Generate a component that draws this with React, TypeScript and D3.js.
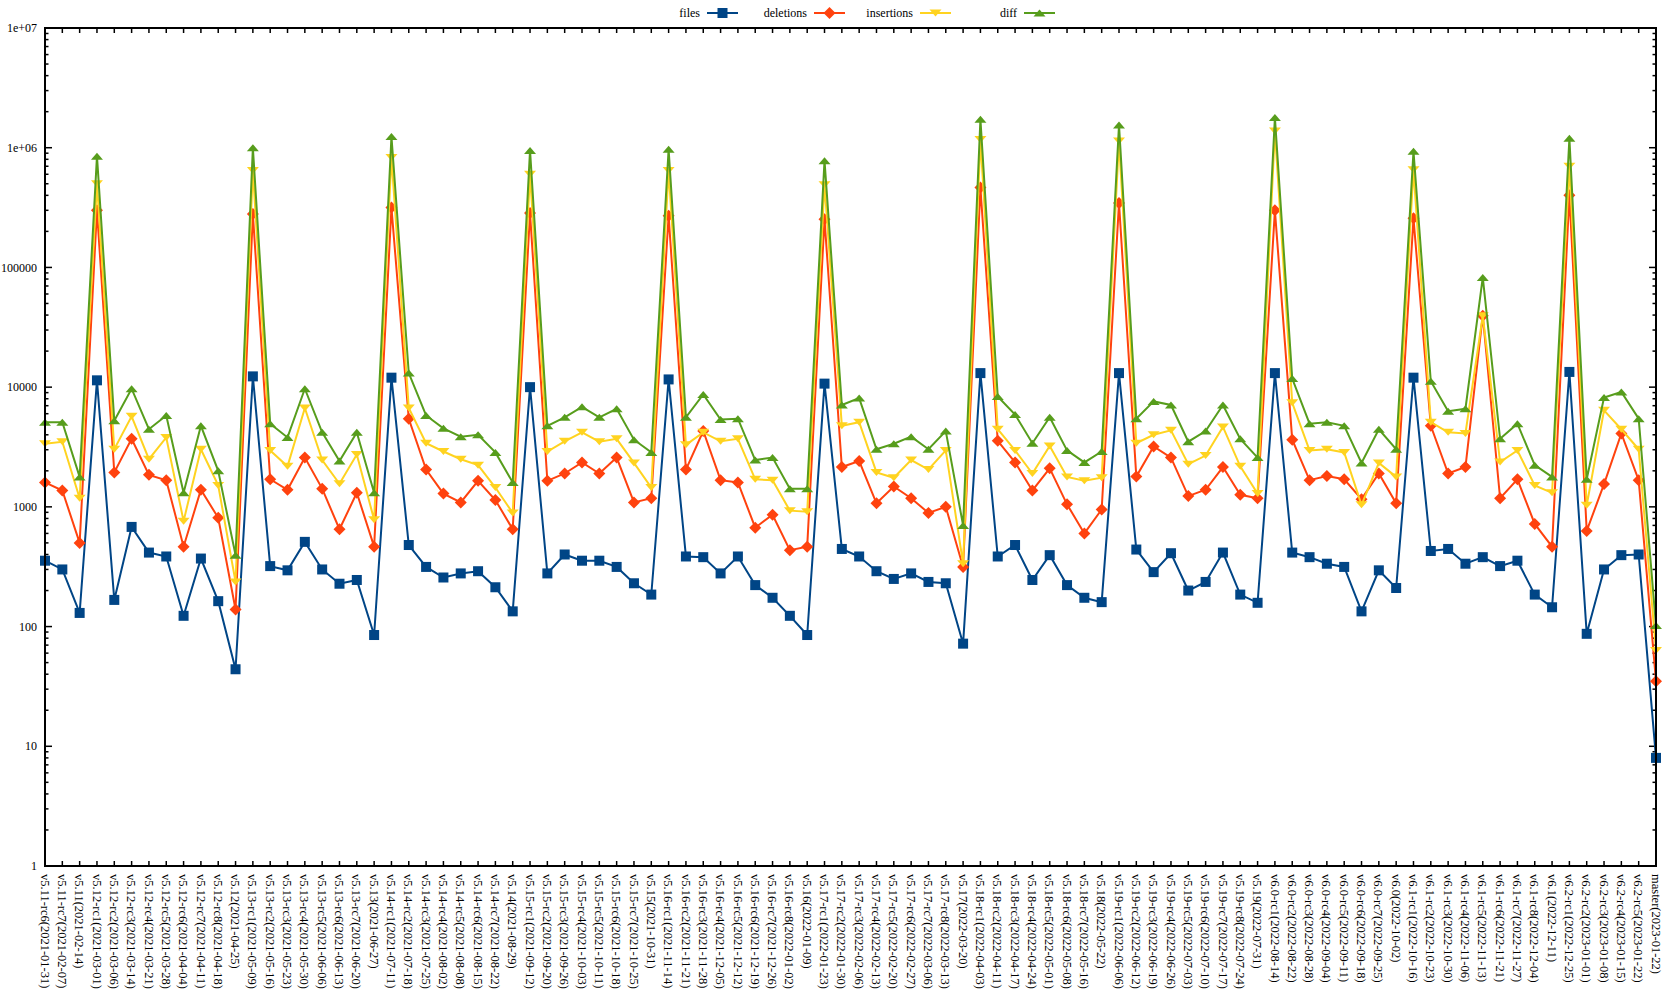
import React from 'react';
import * as d3 from 'd3';

const categories = [
  'v5.11-rc6(2021-01-31)','v5.11-rc7(2021-02-07)','v5.11(2021-02-14)','v5.12-rc1(2021-03-01)','v5.12-rc2(2021-03-06)',
  'v5.12-rc3(2021-03-14)','v5.12-rc4(2021-03-21)','v5.12-rc5(2021-03-28)','v5.12-rc6(2021-04-04)','v5.12-rc7(2021-04-11)',
  'v5.12-rc8(2021-04-18)','v5.12(2021-04-25)','v5.13-rc1(2021-05-09)','v5.13-rc2(2021-05-16)','v5.13-rc3(2021-05-23)',
  'v5.13-rc4(2021-05-30)','v5.13-rc5(2021-06-06)','v5.13-rc6(2021-06-13)','v5.13-rc7(2021-06-20)','v5.13(2021-06-27)',
  'v5.14-rc1(2021-07-11)','v5.14-rc2(2021-07-18)','v5.14-rc3(2021-07-25)','v5.14-rc4(2021-08-02)','v5.14-rc5(2021-08-08)',
  'v5.14-rc6(2021-08-15)','v5.14-rc7(2021-08-22)','v5.14(2021-08-29)','v5.15-rc1(2021-09-12)','v5.15-rc2(2021-09-20)',
  'v5.15-rc3(2021-09-26)','v5.15-rc4(2021-10-03)','v5.15-rc5(2021-10-11)','v5.15-rc6(2021-10-18)','v5.15-rc7(2021-10-25)',
  'v5.15(2021-10-31)','v5.16-rc1(2021-11-14)','v5.16-rc2(2021-11-21)','v5.16-rc3(2021-11-28)','v5.16-rc4(2021-12-05)',
  'v5.16-rc5(2021-12-12)','v5.16-rc6(2021-12-19)','v5.16-rc7(2021-12-26)','v5.16-rc8(2022-01-02)','v5.16(2022-01-09)',
  'v5.17-rc1(2022-01-23)','v5.17-rc2(2022-01-30)','v5.17-rc3(2022-02-06)','v5.17-rc4(2022-02-13)','v5.17-rc5(2022-02-20)',
  'v5.17-rc6(2022-02-27)','v5.17-rc7(2022-03-06)','v5.17-rc8(2022-03-13)','v5.17(2022-03-20)','v5.18-rc1(2022-04-03)',
  'v5.18-rc2(2022-04-11)','v5.18-rc3(2022-04-17)','v5.18-rc4(2022-04-24)','v5.18-rc5(2022-05-01)','v5.18-rc6(2022-05-08)',
  'v5.18-rc7(2022-05-16)','v5.18(2022-05-22)','v5.19-rc1(2022-06-06)','v5.19-rc2(2022-06-12)','v5.19-rc3(2022-06-19)',
  'v5.19-rc4(2022-06-26)','v5.19-rc5(2022-07-03)','v5.19-rc6(2022-07-10)','v5.19-rc7(2022-07-17)','v5.19-rc8(2022-07-24)',
  'v5.19(2022-07-31)','v6.0-rc1(2022-08-14)','v6.0-rc2(2022-08-22)','v6.0-rc3(2022-08-28)','v6.0-rc4(2022-09-04)',
  'v6.0-rc5(2022-09-11)','v6.0-rc6(2022-09-18)','v6.0-rc7(2022-09-25)','v6.0(2022-10-02)','v6.1-rc1(2022-10-16)',
  'v6.1-rc2(2022-10-23)','v6.1-rc3(2022-10-30)','v6.1-rc4(2022-11-06)','v6.1-rc5(2022-11-13)','v6.1-rc6(2022-11-21)',
  'v6.1-rc7(2022-11-27)','v6.1-rc8(2022-12-04)','v6.1(2022-12-11)','v6.2-rc1(2022-12-25)','v6.2-rc2(2023-01-01)',
  'v6.2-rc3(2023-01-08)','v6.2-rc4(2023-01-15)','v6.2-rc5(2023-01-22)','master(2023-01-22)'
];

const files = [
  355, 300, 130, 11400, 167, 680, 415, 385, 123, 370,
  163, 44, 12300, 320, 295, 510, 300, 228, 245, 85,
  12000, 480, 315, 257, 278, 290, 213, 134, 10000, 278,
  400, 355, 355, 315, 230, 185, 11600, 385, 380, 278,
  385, 222, 174, 123, 85, 10700, 445, 385, 290, 250,
  278, 236, 230, 72, 13100, 385, 480, 245, 395, 222,
  174, 160, 13100, 440, 285, 410, 200, 236, 415, 185,
  158, 13100, 415, 380, 335, 315, 134, 295, 210, 12000,
  428, 445, 335, 380, 320, 355, 185, 145, 13400, 87,
  300, 395, 400, 8
];

const deletions = [
  1600, 1370, 500, 300000, 1940, 3700, 1850, 1670, 465, 1390,
  810, 139, 280000, 1700, 1390, 2580, 1420, 650, 1310, 465,
  316000, 5450, 2050, 1290, 1090, 1650, 1140, 650, 285000, 1650,
  1900, 2350, 1900, 2580, 1090, 1180, 270000, 2050, 4300, 1670,
  1600, 670, 860, 435, 465, 253000, 2150, 2410, 1070, 1480,
  1180, 890, 1000, 315, 465000, 3560, 2350, 1370, 2100, 1050,
  600, 950, 346000, 1790, 3200, 2580, 1230, 1390, 2150, 1260,
  1180, 300000, 3640, 1670, 1810, 1700, 1160, 1900, 1070, 257000,
  4750, 1900, 2150, 39500, 1180, 1700, 720, 465, 400000, 630,
  1550, 4100, 1670, 35
];

const insertions = [
  3370, 3500, 1180, 500000, 3030, 5700, 2500, 3800, 760, 3030,
  1510, 236, 645000, 2960, 2180, 6700, 2460, 1560, 2740, 780,
  830000, 6700, 3400, 2900, 2500, 2230, 1450, 890, 600000, 2900,
  3530, 4190, 3500, 3700, 2330, 1450, 645000, 3300, 4190, 3530,
  3700, 1700, 1670, 930, 910, 490000, 4750, 5100, 1940, 1750,
  2460, 2050, 2960, 335, 1170000, 4450, 2960, 1900, 3220, 1780,
  1650, 1750, 1140000, 3400, 4000, 4360, 2270, 2680, 4650, 2180,
  1290, 1380000, 7400, 2960, 3030, 2850, 1040, 2330, 1780, 655000,
  5100, 4190, 4100, 39500, 2370, 2960, 1510, 1310, 700000, 1030,
  6400, 4450, 3030, 63
];

const diff = [
  5100, 5100, 1780, 850000, 5250, 9700, 4450, 5800, 1310, 4750,
  2000, 395, 1000000, 4950, 3800, 9700, 4190, 2410, 4190, 1310,
  1240000, 13100, 5800, 4530, 3860, 4000, 2850, 1600, 950000, 4750,
  5600, 6850, 5600, 6600, 3640, 2850, 970000, 5600, 8700, 5370,
  5450, 2460, 2580, 1420, 1420, 780000, 7100, 8100, 3030, 3370,
  3860, 3030, 4300, 700, 1730000, 8350, 5900, 3400, 5600, 2960,
  2350, 2900, 1550000, 5450, 7600, 7100, 3500, 4300, 7100, 3700,
  2580, 1790000, 11800, 4950, 5100, 4750, 2330, 4450, 3030, 935000,
  11200, 6300, 6600, 82500, 3700, 4950, 2230, 1780, 1200000, 1700,
  8200, 9100, 5450, 102
];

const yTicks = [1, 10, 100, 1000, 10000, 100000, 1e6, 1e7];
const yTickLabels = ['1', '10', '100', '1000', '10000', '100000', '1e+06', '1e+07'];

const seriesNames = ['files', 'deletions', 'insertions', 'diff'];
const seriesColors = ['#004586', '#ff420e', '#ffd320', '#579d1c'];
const seriesData = [files, deletions, insertions, diff];

const FONT = '"Liberation Serif", "Times New Roman", serif';

function Marker({ kind, cx, cy, color }: { kind: number; cx: number; cy: number; color: string }) {
  if (kind === 0) {
    return <rect x={cx - 5} y={cy - 5} width={10} height={10} fill={color} />;
  }
  if (kind === 1) {
    const r = 6;
    return <path d={`M${cx},${cy - r}L${cx + r},${cy}L${cx},${cy + r}L${cx - r},${cy}Z`} fill={color} />;
  }
  if (kind === 2) {
    return <path d={`M${cx - 6},${cy - 3.5}L${cx + 6},${cy - 3.5}L${cx},${cy + 3.5}Z`} fill={color} />;
  }
  return <path d={`M${cx - 6},${cy + 3.5}L${cx + 6},${cy + 3.5}L${cx},${cy - 3.5}Z`} fill={color} />;
}

export default function App() {
  const W = 1664;
  const H = 995;
  const left = 45, right = 1656, top = 28, bottom = 866;

  const x = d3.scalePoint<string>().domain(categories).range([left, right]);
  const y = d3.scaleLog().domain([1, 1e7]).range([bottom, top]);

  const line = d3.line<number>()
    .x((_, i) => x(categories[i]) as number)
    .y((d) => y(d));

  const minorTicks: number[] = [];
  for (let e = 0; e < 7; e++) {
    for (let k = 2; k <= 9; k++) minorTicks.push(k * Math.pow(10, e));
  }

  const legendEnds = [700, 807, 913, 1017];

  return (
    <svg width={W} height={H} style={{ position: 'absolute', left: 0, top: 0, background: '#fff' }}
      fontFamily={FONT}>
      <rect x={0} y={0} width={W} height={H} fill="#fff" />
      {/* legend */}
      {seriesNames.map((n, i) => {
        const tx = legendEnds[i];
        return (
          <g key={n}>
            <text x={tx} y={13} dy="0.35em" textAnchor="end" fontSize={12} fill="#000">{n}</text>
            <line x1={tx + 7} x2={tx + 38} y1={13} y2={13} stroke={seriesColors[i]} strokeWidth={2} />
            <Marker kind={i} cx={tx + 22.5} cy={13} color={seriesColors[i]} />
          </g>
        );
      })}

      {/* y ticks */}
      {yTicks.map((t, i) => (
        <g key={'y' + t}>
          <line x1={left} x2={left + 7} y1={y(t)} y2={y(t)} stroke="#000" strokeWidth={1.5} />
          <line x1={right} x2={right - 7} y1={y(t)} y2={y(t)} stroke="#000" strokeWidth={1.5} />
          <text x={left - 8} y={y(t)} dy="0.35em" textAnchor="end" fontSize={12} fill="#000">{yTickLabels[i]}</text>
        </g>
      ))}
      {minorTicks.map((t) => (
        <g key={'m' + t}>
          <line x1={left} x2={left + 3.5} y1={y(t)} y2={y(t)} stroke="#000" strokeWidth={1.5} />
          <line x1={right} x2={right - 3.5} y1={y(t)} y2={y(t)} stroke="#000" strokeWidth={1.5} />
        </g>
      ))}

      {/* x ticks and labels */}
      {categories.map((c) => {
        const cx = x(c) as number;
        return (
          <g key={'x' + c}>
            <line x1={cx} x2={cx} y1={top} y2={top + 5} stroke="#000" strokeWidth={1.5} />
            <line x1={cx} x2={cx} y1={bottom} y2={bottom - 5} stroke="#000" strokeWidth={1.5} />
            <text transform={`translate(${cx},${bottom + 8}) rotate(90)`} dy="0.35em" textAnchor="start"
              fontSize={12.5} fill="#000">{c}</text>
          </g>
        );
      })}

      {/* series */}
      {seriesData.map((data, si) => (
        <g key={'s' + si}>
          <path d={line(data) || ''} fill="none" stroke={seriesColors[si]} strokeWidth={2} strokeLinejoin="miter" />
          {data.map((v, i) => (
            <Marker key={i} kind={si} cx={x(categories[i]) as number} cy={y(v)} color={seriesColors[si]} />
          ))}
        </g>
      ))}

      {/* frame */}
      <rect x={left} y={top} width={right - left} height={bottom - top} fill="none" stroke="#000" strokeWidth={2} />
    </svg>
  );
}
